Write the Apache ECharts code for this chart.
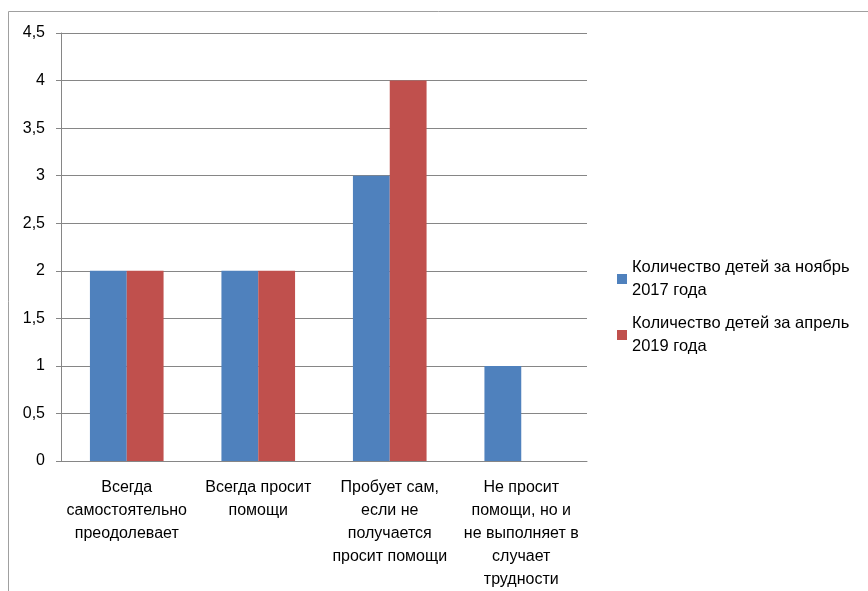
<!DOCTYPE html>
<html>
<head>
<meta charset="utf-8">
<script src="https://cdn.jsdelivr.net/npm/echarts@6/dist/echarts.min.js"></script>
<style>
  html, body { margin: 0; padding: 0; background: #fff; }
  #chart { width: 868px; height: 591px; }
</style>
</head>
<body>
<div id="chart"></div>
<script>
const categories = [
  'Всегда\nсамостоятельно\nпреодолевает',
  'Всегда просит\nпомощи',
  'Пробует сам,\nесли не\nполучается\nпросит помощи',
  'Не просит\nпомощи, но и\nне выполняет в\nслучает\nтрудности'
];
const seriesNames = [
  'Количество детей за ноябрь\n2017 года',
  'Количество детей за апрель\n2019 года'
];
const november2017 = [2, 2, 3, 1];
const april2019 = [2, 2, 4, 0];
const yTicks = { min: 0, max: 4.5, interval: 0.5 };

const FONT = 'Liberation Sans';
const axisGray = '#868686';

const chart = echarts.init(document.getElementById('chart'), null, { renderer: 'canvas' });
chart.setOption({
  animation: false,
  textStyle: { fontFamily: FONT },
  graphic: [{
    type: 'rect',
    shape: { x: 8.5, y: 11.5, width: 1000, height: 1000 },
    style: { fill: 'none', stroke: '#a0a0a0', lineWidth: 1 },
    silent: true
  }],
  grid: { left: 61, right: 281, top: 33, bottom: 130, containLabel: false },
  legend: {
    orient: 'vertical',
    left: 612,
    top: 251,
    itemWidth: 10,
    itemHeight: 10,
    itemGap: 10,
    icon: 'rect',
    textStyle: { fontFamily: FONT, fontSize: 16.5, color: '#000', lineHeight: 23 },
    data: seriesNames
  },
  xAxis: {
    type: 'category',
    data: categories,
    axisLine: { lineStyle: { color: axisGray } },
    axisTick: { length: 5, lineStyle: { color: axisGray } },
    axisLabel: { color: '#000', fontSize: 16, lineHeight: 23, margin: 15, interval: 0, fontFamily: FONT }
  },
  yAxis: {
    type: 'value',
    min: yTicks.min,
    max: yTicks.max,
    interval: yTicks.interval,
    axisLine: { show: true, lineStyle: { color: axisGray } },
    axisTick: { show: true, length: 5, lineStyle: { color: axisGray } },
    splitLine: { lineStyle: { color: axisGray } },
    axisLabel: {
      color: '#000', fontSize: 16, margin: 16, fontFamily: FONT,
      formatter: v => String(v).replace('.', ',')
    }
  },
  series: [
    { name: seriesNames[0], type: 'bar', data: november2017, barGap: '0%', barCategoryGap: '44%',
      itemStyle: { color: '#4F81BD' } },
    { name: seriesNames[1], type: 'bar', data: april2019, barGap: '0%', barCategoryGap: '44%',
      itemStyle: { color: '#C0504D' } }
  ]
});
</script>
</body>
</html>
